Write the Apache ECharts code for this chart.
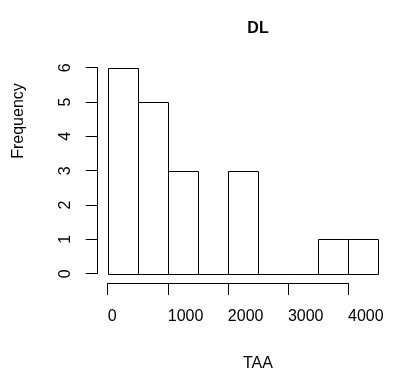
<!DOCTYPE html>
<html>
<head>
<meta charset="utf-8">
<style>
  html, body { margin: 0; padding: 0; background: #fff; }
  #chart { width: 393px; height: 383px; }
</style>
<script src="https://cdn.jsdelivr.net/npm/echarts@6/dist/echarts.min.js"></script>
</head>
<body>
<div id="chart"></div>
<script>
// Histogram data: bins of width 500
const binEdges = [0, 500, 1000, 1500, 2000, 2500, 3000, 3500, 4000, 4500];
const counts = [6, 5, 3, 0, 3, 0, 0, 1, 1];
const xTicks = [0, 1000, 2000, 3000, 4000];
const yTicks = [0, 1, 2, 3, 4, 5, 6];

const chartElt = document.getElementById("chart");
const chart = echarts.init(chartElt, null, { renderer: "canvas" });

const FONT = "Liberation Sans, Arial, Helvetica, sans-serif";

const bins = counts.map((c, i) => [binEdges[i], binEdges[i + 1], c]);

function renderBin(params, api) {
  const p0 = api.coord([api.value(0), api.value(2)]);
  const p1 = api.coord([api.value(1), 0]);
  const x0 = Math.round(p0[0]) + 0.5;
  const x1 = Math.round(p1[0]) + 0.5;
  const y0 = Math.round(p0[1]) + 0.5;
  const y1 = Math.round(p1[1]) + 0.5;
  return {
    type: "rect",
    shape: { x: x0, y: y0, width: x1 - x0, height: y1 - y0 },
    style: { fill: "#fff", stroke: "#000", lineWidth: 1 },
  };
}

const axisLine = { show: true, lineStyle: { color: "#000", width: 1 } };
const axisTick = { show: true, length: 12, lineStyle: { color: "#000", width: 1 } };

chart.setOption({
  backgroundColor: "#fff",
  animation: false,
  title: {
    text: "DL",
    left: 253,
    top: 16,
    textAlign: "center",
    textStyle: { fontFamily: FONT, fontSize: 16, fontWeight: "bold", color: "#000" },
  },
  grid: [
    // bars
    { left: 107.7, top: 67.7, width: 270.3, height: 206 },
    // x axis (0..4000 only), sits below the bars
    { left: 107.7, top: 273, width: 240.3, height: 10 },
    // y axis, sits left of the bars
    { left: 97.7, top: 67.7, width: 10, height: 206 },
  ],
  xAxis: [
    { gridIndex: 0, type: "value", min: binEdges[0], max: binEdges[binEdges.length - 1], show: false },
    {
      gridIndex: 1,
      type: "value",
      min: xTicks[0],
      max: xTicks[xTicks.length - 1],
      interval: 1000,
      position: "bottom",
      axisLine: axisLine,
      axisTick: axisTick,
      axisLabel: {
        margin: 26,
        align: "left",
        color: "#000",
        fontFamily: FONT,
        fontSize: 16,
        showMinLabel: true,
        showMaxLabel: true,
        formatter: (v) => String(v),
      },
      splitLine: { show: false },
    },
    { gridIndex: 2, type: "value", show: false },
  ],
  yAxis: [
    { gridIndex: 0, type: "value", min: yTicks[0], max: yTicks[yTicks.length - 1], show: false },
    { gridIndex: 1, type: "value", show: false },
    {
      gridIndex: 2,
      type: "value",
      min: yTicks[0],
      max: yTicks[yTicks.length - 1],
      interval: 1,
      position: "left",
      axisLine: axisLine,
      axisTick: axisTick,
      axisLabel: {
        margin: 24,
        rotate: 90,
        color: "#000",
        fontFamily: FONT,
        fontSize: 16,
        formatter: (v) => String(v),
      },
      splitLine: { show: false },
    },
  ],
  graphic: [
    {
      type: "text",
      left: 243,
      top: 356,
      style: { text: "TAA", font: "16px " + FONT, fill: "#000" },
    },
    {
      type: "text",
      x: 19,
      y: 121,
      rotation: Math.PI / 2,
      style: {
        text: "Frequency",
        font: "16px " + FONT,
        fill: "#000",
        align: "center",
        verticalAlign: "middle",
      },
    },
  ],
  series: [
    {
      type: "custom",
      xAxisIndex: 0,
      yAxisIndex: 0,
      renderItem: renderBin,
      encode: { x: [0, 1], y: 2 },
      data: bins,
    },
  ],
});
</script>
</body>
</html>
